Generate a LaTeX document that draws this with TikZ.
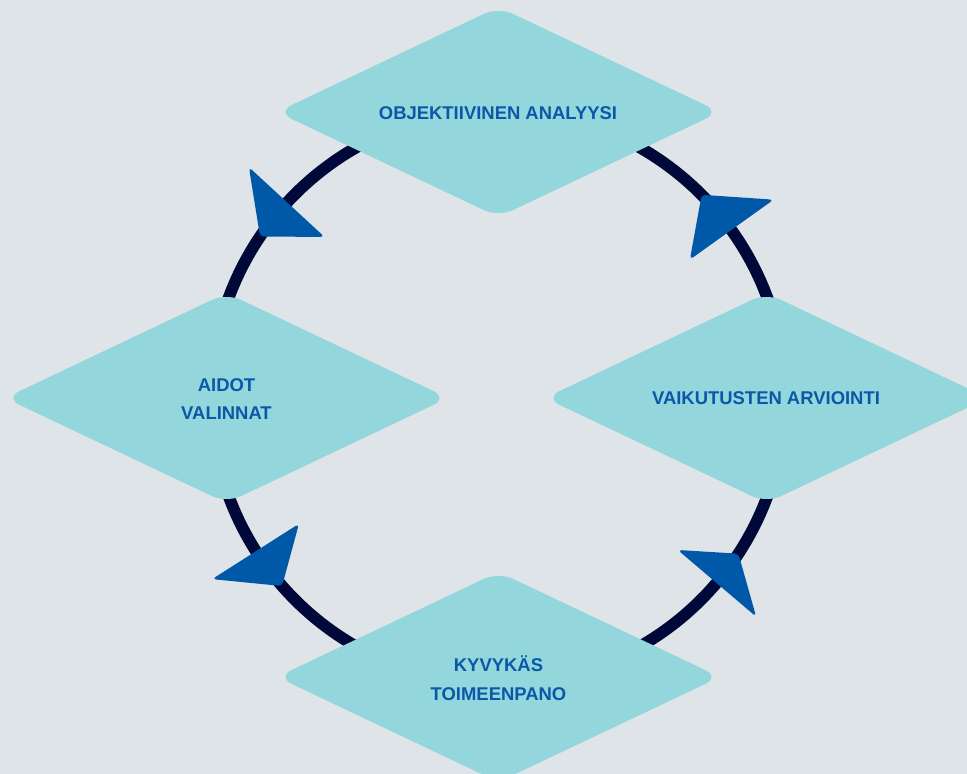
\documentclass[tikz,border=0pt]{standalone}
\usepackage{fontspec}
\setmainfont{Liberation Sans}
\definecolor{bgcol}{RGB}{223,228,232}
\definecolor{diafill}{RGB}{147,214,220}
\definecolor{ringcol}{RGB}{0,8,58}
\definecolor{arrowblue}{RGB}{0,88,168}
\definecolor{labelblue}{RGB}{10,88,168}
\begin{document}
\begin{tikzpicture}[x=0.02cm,y=0.02cm,
  stagebox/.style={fill=diafill, rounded corners=0.32cm},
  stagetext/.style={text=labelblue, font=\bfseries\fontsize{10.5}{16.4}\selectfont, align=center, inner sep=0pt},
  ringline/.style={draw=ringcol, line width=6.7pt},
  cyclearrow/.style={fill=arrowblue, rounded corners=0.08cm}]
\fill[bgcol] (0,0) rectangle (967,774);
\useasboundingbox (0,0) rectangle (967,774);
\coordinate (c) at (498,377);
% ring
\draw[ringline] (c) circle[radius=5.74cm];
% arrowheads (counterclockwise)
\fill[cyclearrow] ([shift={(c)}]146.0:287) -- ([shift={(c)}]137.3:339) -- ([shift={(c)}]137.3:236) -- cycle;
\fill[cyclearrow] ([shift={(c)}]44.8:287) -- ([shift={(c)}]35.6:339) -- ([shift={(c)}]35.6:236) -- cycle;
\fill[cyclearrow] ([shift={(c)}]221.2:287) -- ([shift={(c)}]212.5:339) -- ([shift={(c)}]212.5:236) -- cycle;
\fill[cyclearrow] ([shift={(c)}]326.9:287) -- ([shift={(c)}]319.6:339) -- ([shift={(c)}]319.6:236) -- cycle;
% diamonds
\foreach \px/\py in {498.5/662, 226.5/376, 766.5/376, 498.5/97}{
  \fill[stagebox, shift={(\px,\py)}] (-110.75,52.5) -- (0,105) -- (221.5,0) -- (0,-105) -- (-221.5,0) -- cycle;
}
% labels
\node[stagetext] (analyysi) at (498,661) {OBJEKTIIVINEN ANALYYSI};
\node[stagetext] (arviointi) at (766,376) {VAIKUTUSTEN ARVIOINTI};
\node[stagetext] (valinnat) at (226.5,375) {AIDOT\\VALINNAT};
\node[stagetext] (toimeenpano) at (498.5,96) {KYVYKÄS\\TOIMEENPANO};
\end{tikzpicture}
\end{document}
